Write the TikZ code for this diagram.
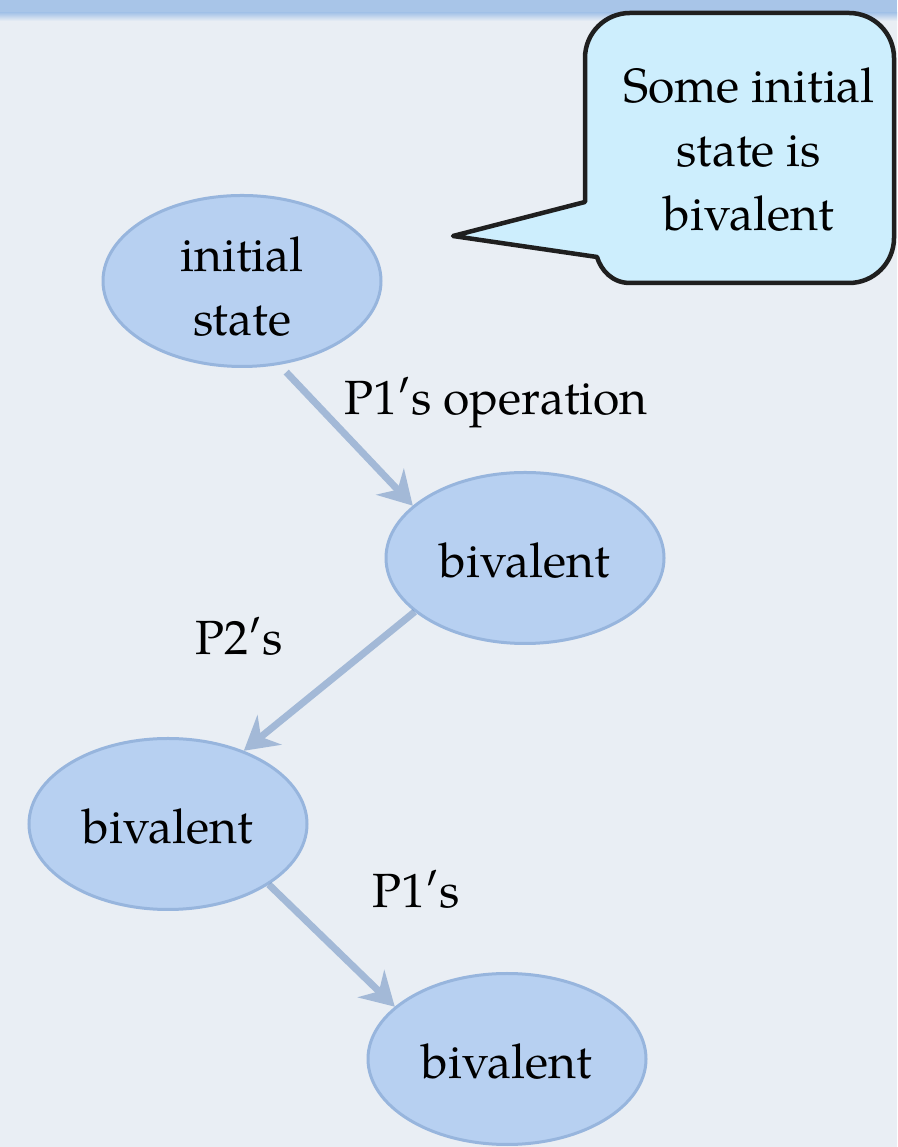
\documentclass[tikz,border=0pt]{standalone}
\usepackage{fontspec}
\setmainfont{TeX Gyre Pagella}
\usetikzlibrary{shapes.geometric,arrows.meta}

\definecolor{paper}{HTML}{E9EEF4}
\definecolor{band}{HTML}{A8C5E8}
\definecolor{stateFill}{HTML}{B7D0F1}
\definecolor{stateLine}{HTML}{97B5DD}
\definecolor{flow}{HTML}{7597C4}
\definecolor{bubbleFill}{HTML}{CDEEFD}
\definecolor{bubbleLine}{HTML}{1F1F1F}

\tikzset{
  big/.style={font=\fontsize{48}{64}\selectfont},
  statenode/.style={ellipse, big, draw=stateLine, line width=3pt, fill=stateFill,
    minimum width=278pt, minimum height=171pt, inner sep=0pt, text height=40pt, text depth=0pt},
  steplabel/.style={big, anchor=base, inner sep=0pt},
  flowarrow/.style={draw=flow, line width=7pt,
    -{Stealth[length=33pt,width=38pt,inset=11pt]}},
  bubble/.style={fill=bubbleFill, draw=bubbleLine, line width=4.5pt, line join=round},
}

\begin{document}
\begin{tikzpicture}[x=1pt,y=1pt]
  % paper and top band
  \fill[paper] (0,0) rectangle (897,1147);
  \useasboundingbox (0,0) rectangle (897,1147);
  \fill[band] (0,1134) rectangle (897,1147);
  \shade[top color=band, bottom color=paper] (0,1126) rectangle (897,1134);

  % speech bubble
  \path[bubble] (453,911) -- (585,945) -- (585,1089)
    arc[start angle=180, end angle=90, radius=45] -- (849,1134)
    arc[start angle=90, end angle=0, radius=45] -- (894,909)
    arc[start angle=0, end angle=-90, radius=45] -- (630,864)
    .. controls (612,864) and (601,877) .. (597,890) -- cycle;
  \node[big, align=center, inner sep=0pt] (note) at (749,997)
    {Some initial\\state is\\bivalent};

  % states
  \node[statenode, align=center, text height=, text depth=] (s0) at (242,866)
    {\rule{0pt}{45pt}initial\\state};
  \node[statenode] (s1) at (525,589) {bivalent};
  \node[statenode] (s2) at (168,323) {bivalent};
  \node[statenode] (s3) at (507,88) {bivalent};

  % transitions
  \begin{scope}[transparency group, opacity=0.6]
    \draw[flowarrow, shorten <=10pt] (s0.-66) -- (s1.155);
  \end{scope}
  \begin{scope}[transparency group, opacity=0.6]
    \draw[flowarrow] (s1.206) -- (s2.44);
  \end{scope}
  \begin{scope}[transparency group, opacity=0.6]
    \draw[flowarrow] (s2.-31) -- (s3.155);
  \end{scope}

  % transition labels
  \node[steplabel] (l1) at (496,732) {P1′s operation};
  \node[steplabel] (l2) at (239,492) {P2′s};
  \node[steplabel] (l3) at (416,239) {P1′s};
\end{tikzpicture}
\end{document}
